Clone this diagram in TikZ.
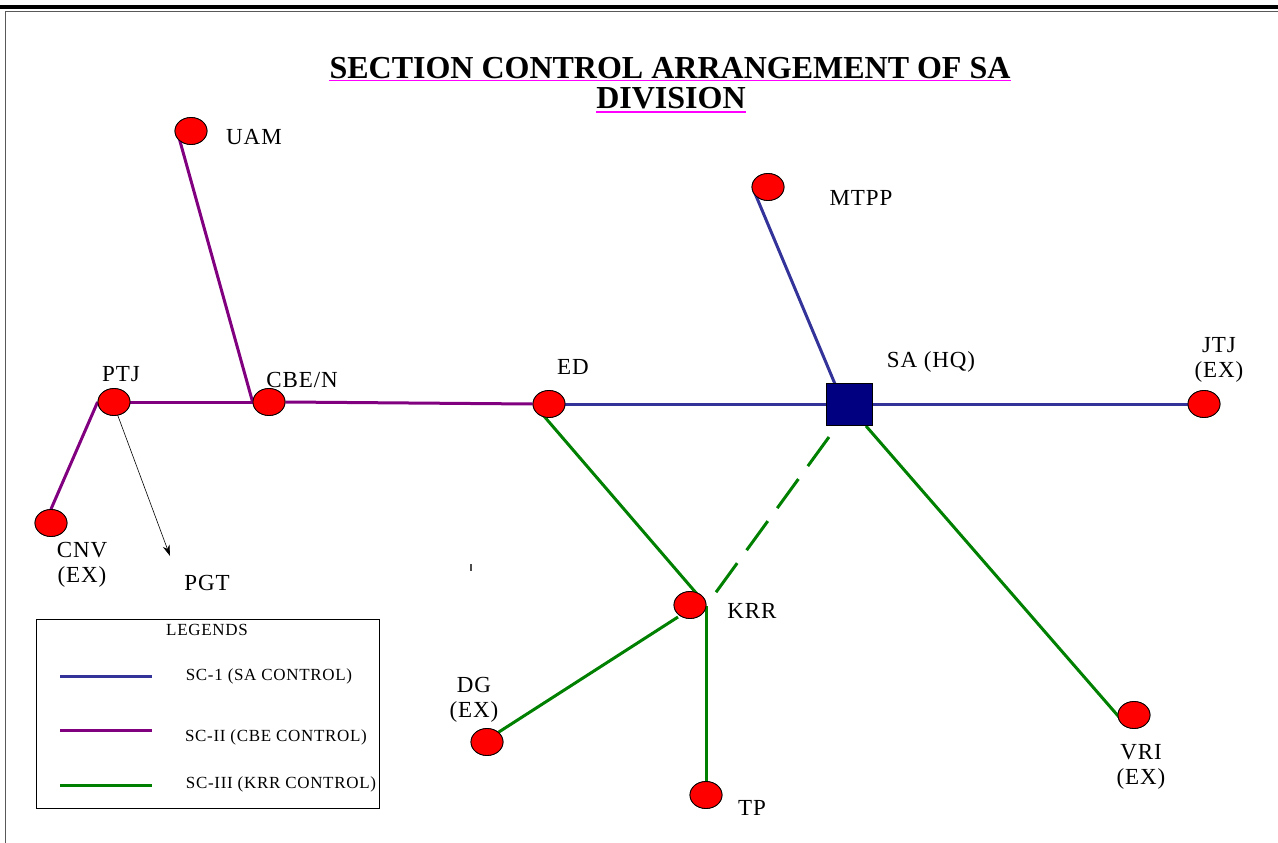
\documentclass[tikz,border=0pt]{standalone}
\usepackage{fontspec}
\setmainfont{Liberation Serif}
\newfontfamily\lblfont[LetterSpace=4]{Liberation Serif}
\usetikzlibrary{shapes.geometric,arrows.meta}
\definecolor{scblue}{RGB}{51,51,153}
\definecolor{scpurple}{RGB}{128,0,128}
\definecolor{scgreen}{RGB}{0,128,0}
\definecolor{hqblue}{RGB}{0,0,128}
\definecolor{ulmag}{RGB}{255,0,255}
\tikzset{
  stn/.style={ellipse,draw=black,line width=0.8pt,fill=red,minimum width=32pt,minimum height=27pt,inner sep=0pt},
  hq/.style={rectangle,draw=black,line width=0.8pt,fill=hqblue,minimum width=46pt,minimum height=42pt,inner sep=0pt},
  lbl/.style={font=\lblfont\fontsize{23}{24.5}\selectfont,inner sep=0pt,align=center},
  leg/.style={font=\lblfont\fontsize{17}{18}\selectfont,inner sep=0pt},
  lblue/.style={draw=scblue,line width=3pt},
  lpurple/.style={draw=scpurple,line width=3pt},
  lgreen/.style={draw=scgreen,line width=3pt},
  ttl/.style={font=\bfseries\fontsize{32}{33}\selectfont,inner sep=0pt,anchor=base}
}
\begin{document}
\begin{tikzpicture}[x=1pt,y=-1pt]
\useasboundingbox (0,0) rectangle (1278,843);
% page frame
\fill[black] (0,5) rectangle (1278,9);
\draw[gray!70!black,line width=1pt] (1278,11.5) -- (5,11.5) -- (5,843);
% title
\node[ttl] (t1) at (670,78) {SECTION CONTROL ARRANGEMENT OF SA};
\node[ttl] (t2) at (671,109) {DIVISION};
\draw[ulmag,line width=1.2pt] ([yshift=-2.5pt]t1.base west) -- ([yshift=-2.5pt]t1.base east);
\draw[ulmag,line width=1.2pt] ([yshift=-3pt]t2.base west) -- ([yshift=-3pt]t2.base east);
% stations
\node[stn] (UAM) at (191,131) {};
\node[stn] (MTPP) at (768,187) {};
\node[stn] (PTJ) at (114,402) {};
\node[stn] (CBE) at (269,402) {};
\node[stn] (ED) at (549,404) {};
\node[hq] (SA) at (849,404) {};
\node[stn] (JTJ) at (1204,404) {};
\node[stn] (CNV) at (51,523) {};
\node[stn] (KRR) at (690,605) {};
\node[stn] (DG) at (487,742) {};
\node[stn] (TP) at (706,795) {};
\node[stn] (VRI) at (1134,715) {};
\coordinate (PGTend) at (170,556);
% labels
\node[lbl] (lUAM) at (254,137) {UAM};
\node[lbl] (lMTPP) at (861,198) {MTPP};
\node[lbl] (lPTJ) at (121,374) {PTJ};
\node[lbl] (lCBE) at (302,380) {CBE/N};
\node[lbl] (lED) at (573,367) {ED};
\node[lbl] (lSA) at (931,362) {SA (HQ)};
\node[lbl] (lJTJ) at (1219,360) {JTJ\\(EX)};
\node[lbl] (lCNV) at (82,565) {CNV\\(EX)};
\node[lbl] (lPGT) at (207,583) {PGT};
\node[lbl] (lKRR) at (752,611) {KRR};
\node[lbl] (lDG) at (474,700) {DG\\(EX)};
\node[lbl] (lTP) at (752,808) {TP};
\node[lbl] (lVRI) at (1141,767) {VRI\\(EX)};
% connectors
\draw[lpurple] (178,134) -- (CBE.west);
\draw[lpurple] (PTJ.east) -- (CBE.west);
\draw[lpurple] (CBE.east) -- (ED.west);
\draw[lpurple] (CNV.north) -- (PTJ.west);
\draw[lblue] (ED.east) -- (SA.west);
\draw[lblue] (SA.east) -- (JTJ.west);
\draw[lblue] (754,191) -- (835,384);
\draw[lgreen] (543,415) -- (697,594);
\draw[lgreen,dash pattern=on 36pt off 16pt] (829,437) -- (714,595);
\draw[lgreen] (866,426) -- (1119,717);
\draw[lgreen] (678,617) -- (DG.north east);
\draw[lgreen] (706,606) -- (TP.north);
\draw[black,line width=0.6pt,-{Stealth[length=11pt,width=7pt]}] (118,416) -- (PGTend);
% redraw stations on top
\node[stn] at (UAM) {};
\node[stn] at (MTPP) {};
\node[stn] at (PTJ) {};
\node[stn] at (CBE) {};
\node[stn] at (ED) {};
\node[hq] at (SA) {};
\node[stn] at (JTJ) {};
\node[stn] at (CNV) {};
\node[stn] at (KRR) {};
\node[stn] at (DG) {};
\node[stn] at (TP) {};
\node[stn] at (VRI) {};
% stray tick
\draw[gray!60!black,line width=1.5pt] (471,564) -- (471,571);
% legend
\draw[black,line width=0.8pt] (36,619) rectangle (379,808);
\node[leg] (lgT) at (207,630) {LEGENDS};
\coordinate (a1) at (60,676); \coordinate (b1) at (152,676);
\coordinate (a2) at (60,730); \coordinate (b2) at (152,730);
\coordinate (a3) at (60,785); \coordinate (b3) at (152,785);
\draw[lblue] (a1) -- (b1);
\draw[lpurple] (a2) -- (b2);
\draw[lgreen] (a3) -- (b3);
\node[leg] (lg1) at (269,676) {SC-1 (SA CONTROL)};
\node[leg] (lg2) at (276,737) {SC-II (CBE CONTROL)};
\node[leg] (lg3) at (281,784) {SC-III (KRR CONTROL)};
\end{tikzpicture}
\end{document}
